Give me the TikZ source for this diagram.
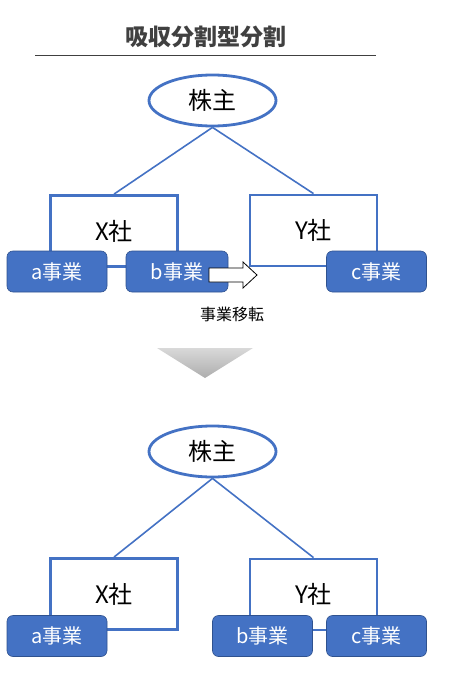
\documentclass[tikz,border=0pt]{standalone}
\usepackage{fontspec}
\setmainfont{Noto Sans CJK JP}
\usetikzlibrary{shapes.geometric}
\definecolor{blu}{HTML}{4472C4}
\definecolor{bdark}{HTML}{2F528F}
\definecolor{ttl}{HTML}{404040}
\begin{document}
\begin{tikzpicture}[x=1pt,y=-1pt,
 co/.style={draw=blu,line width=2.8pt,fill=white,inner sep=0,minimum width=127pt,minimum height=71pt,font=\fontsize{24}{24}\selectfont},
 biz/.style={draw=bdark,line width=0.6pt,fill=blu,rounded corners=6pt,minimum width=100pt,minimum height=41pt,text=white,font=\fontsize{20}{20}\selectfont,inner sep=0},
 oval/.style={ellipse,draw=blu,line width=2.8pt,fill=white,minimum width=127pt,minimum height=51pt,font=\fontsize{24}{24}\selectfont,inner sep=0},
 link/.style={blu,line width=1.6pt}]
\useasboundingbox (0,0) rectangle (451,679);
% title
\node[font=\bfseries\fontsize{23}{23}\selectfont,text=ttl] (title) at (205.5,37) {吸収分割型分割};
\coordinate (r1) at (35,55);
\coordinate (r2) at (376,55);
\draw[ttl,line width=0.9pt] (r1) -- (r2);
% upper part
\node[oval] (s1) at (212.5,100.5) {株主};
\node[co] (x1) at (114,231) {X社};
\node[co] (y1) at (313.5,230.5) {Y社};
\draw[link] (s1.south) -- (x1.north);
\draw[link] (s1.south) -- (y1.north);
\node[biz] (a1) at (57,271.5) {a事業};
\node[biz,minimum width=102pt] (b1) at (177,271.5) {b事業};
\node[biz] (c1) at (376.5,271.5) {c事業};
\draw[black,fill=white,line width=0.8pt,line join=miter]
  (209,268) -- (243,268) -- (243,262) -- (257,275) -- (243,288) -- (243,282) -- (209,282) -- cycle;
\node[font=\fontsize{16}{16}\selectfont] (mvl) at (232,314) {事業移転};
% down triangle
\shade[top color=black!15,bottom color=black!32] (157,348) -- (253,348) -- (205,378) -- cycle;
% lower part
\node[oval] (s2) at (212.5,451.5) {株主};
\node[co] (x2) at (114,594) {X社};
\node[co] (y2) at (313.5,594.5) {Y社};
\draw[link] (s2.south) -- (x2.north);
\draw[link] (s2.south) -- (y2.north);
\node[biz] (a2) at (57,636) {a事業};
\node[biz] (b2) at (262.5,636) {b事業};
\node[biz] (c2) at (376.5,636) {c事業};
\end{tikzpicture}
\end{document}
